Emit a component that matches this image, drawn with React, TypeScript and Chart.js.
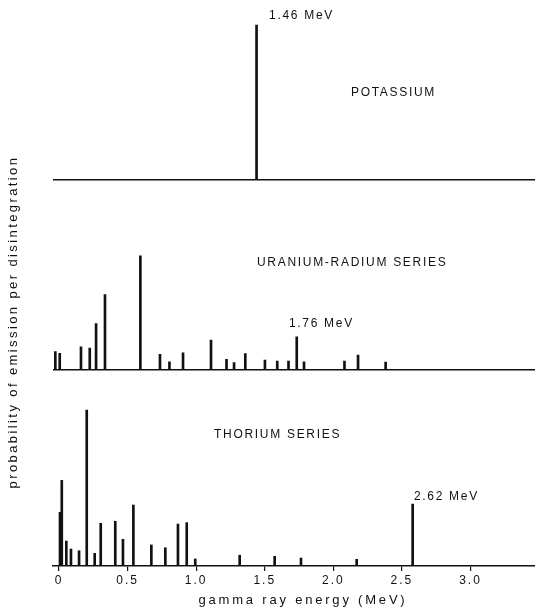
import { useEffect, useRef } from 'react';
import { Chart, registerables } from 'chart.js';

Chart.register(...registerables);

// ---- data (energies in MeV, relative emission probability, tallest line = 100) ----
const potassiumEnergy = [1.44];
const potassiumIntensity = [99];

const uraniumEnergy = [
  -0.027, 0.005, 0.16, 0.224, 0.27, 0.335, 0.593, 0.736, 0.805, 0.904, 1.108,
  1.221, 1.276, 1.358, 1.501, 1.591, 1.673, 1.733, 1.786, 2.081, 2.18, 2.381,
];
const uraniumIntensity = [
  11.9, 10.7, 14.9, 14.1, 29.9, 48.5, 73.3, 10.1, 5.3, 11.1, 19.2,
  6.9, 4.9, 10.6, 6.4, 5.8, 5.8, 21.3, 5.3, 5.8, 9.6, 5.1,
];

const thoriumEnergy = [
  0.007, 0.02, 0.053, 0.087, 0.146, 0.202, 0.26, 0.304, 0.41, 0.466, 0.542,
  0.673, 0.775, 0.867, 0.931, 0.993, 1.317, 1.572, 1.764, 2.17, 2.578,
];
const thoriumIntensity = [
  34.4, 54.9, 16.0, 10.9, 9.8, 100, 8.1, 27.4, 28.7, 17.1, 39.1,
  13.5, 11.7, 26.9, 27.8, 4.5, 6.9, 6.2, 5.1, 4.3, 39.7,
];

const xTickValues = [0, 0.5, 1, 1.5, 2, 2.5, 3];
const xTickLabels = ['0', '0.5', '1.0', '1.5', '2.0', '2.5', '3.0'];

const xTitle = 'gamma ray energy (MeV)';
const yTitle = 'probability of emission per disintegration';

const labelTexts = ['1.46 MeV', 'POTASSIUM', 'URANIUM-RADIUM SERIES', '1.76 MeV', 'THORIUM SERIES', '2.62 MeV'];
const labelAxes = ['yK', 'yK', 'yU', 'yU', 'yT', 'yT'];
// label anchors (left edge, vertical middle) in data units
const labelAtX = [1.531, 2.128, 1.443, 1.676, 1.13, 2.587];
const labelAtY = [105.3, 56, 68.6, 29.5, 84, 44.5];

const INK = '#111';
const FONT_FAMILY = '"Liberation Sans", Arial, Helvetica, sans-serif';

const toPoints = (xs: number[], ys: number[]) => xs.map((x, i) => ({ x, y: ys[i] }));

const textPlugin = {
  id: 'spectrumText',
  beforeDraw(chart: any) {
    chart.ctx.letterSpacing = '2px';
  },
  afterDraw(chart: any) {
    const ctx = chart.ctx;
    const xs = chart.scales.x;
    const area = chart.chartArea;

    // in-plot annotations
    ctx.save();
    ctx.letterSpacing = '1.7px';
    ctx.fillStyle = INK;
    ctx.font = `12px ${FONT_FAMILY}`;
    ctx.textAlign = 'left';
    ctx.textBaseline = 'middle';
    labelTexts.forEach((t, i) => {
      const ys = chart.scales[labelAxes[i]];
      ctx.fillText(t, xs.getPixelForValue(labelAtX[i]), ys.getPixelForValue(labelAtY[i]));
    });
    ctx.restore();

    // x axis title
    ctx.save();
    ctx.letterSpacing = '2.8px';
    ctx.fillStyle = INK;
    ctx.font = `13px ${FONT_FAMILY}`;
    ctx.textAlign = 'center';
    ctx.textBaseline = 'middle';
    ctx.fillText(xTitle, (area.left + area.right) / 2 + 9, xs.bottom - 13);
    ctx.restore();

    // y axis title (spans all three panels)
    ctx.save();
    ctx.letterSpacing = '2.4px';
    ctx.fillStyle = INK;
    ctx.font = `13px ${FONT_FAMILY}`;
    ctx.translate(13, 322);
    ctx.rotate(-Math.PI / 2);
    ctx.textAlign = 'center';
    ctx.textBaseline = 'middle';
    ctx.fillText(yTitle, 0, 0);
    ctx.restore();
  },
};

const baselineAxis = (max: number) => ({
  type: 'linear' as const,
  position: 'left' as const,
  stack: 'spectra',
  stackWeight: max,
  min: 0,
  max,
  ticks: { display: false },
  border: { display: false },
  grid: { display: true, drawTicks: false, offset: false, color: INK, lineWidth: 1.5 },
  afterBuildTicks: (s: any) => {
    s.ticks = [{ value: 0 }];
  },
  afterFit: (s: any) => {
    s.width = 0;
  },
});

export default function App() {
  const ref = useRef<HTMLCanvasElement | null>(null);

  useEffect(() => {
    if (!ref.current) return;
    const bar = {
      backgroundColor: INK,
      borderWidth: 0,
      barThickness: 2,
      grouped: false,
    };
    const chart = new Chart(ref.current, {
      type: 'bar',
      data: {
        datasets: [
          { label: 'Potassium', data: toPoints(potassiumEnergy, potassiumIntensity), yAxisID: 'yK', xAxisID: 'x', ...bar },
          { label: 'Uranium-radium series', data: toPoints(uraniumEnergy, uraniumIntensity), yAxisID: 'yU', xAxisID: 'x', ...bar },
          { label: 'Thorium series', data: toPoints(thoriumEnergy, thoriumIntensity), yAxisID: 'yT', xAxisID: 'x', ...bar },
        ],
      } as any,
      options: {
        animation: false,
        responsive: false,
        devicePixelRatio: 1,
        layout: { padding: { left: 53, top: 8, right: 0, bottom: 0 } },
        plugins: { legend: { display: false }, tooltip: { enabled: false } },
        font: { family: FONT_FAMILY } as any,
        scales: {
          x: {
            type: 'linear',
            position: 'bottom',
            min: -0.044,
            max: 3.47,
            offset: false,
            border: { display: true, color: INK, width: 1.5 },
            grid: {
              display: true,
              offset: false,
              drawOnChartArea: false,
              drawTicks: true,
              tickLength: 5,
              color: INK,
              lineWidth: 1.2,
            },
            ticks: {
              autoSkip: false,
              maxRotation: 0,
              padding: 2,
              color: INK,
              font: { size: 12, family: FONT_FAMILY },
              callback: (_v: any, i: number) => xTickLabels[i],
            },
            afterBuildTicks: (s: any) => {
              s.ticks = xTickValues.map((v) => ({ value: v }));
            },
            afterFit: (s: any) => {
              s.height = 47;
            },
            title: { display: false, text: xTitle },
          },
          // stacked axes are laid out bottom-up in definition order
          yT: { ...baselineAxis(125.6), grid: { display: false } },
          yU: baselineAxis(122.2),
          yK: baselineAxis(110),
        } as any,
      },
      plugins: [textPlugin],
    });
    return () => chart.destroy();
  }, []);

  return (
    <div style={{ position: 'absolute', left: 0, top: 0, width: 535, height: 613, background: '#fff' }}>
      <canvas ref={ref} width={535} height={613} />
    </div>
  );
}
